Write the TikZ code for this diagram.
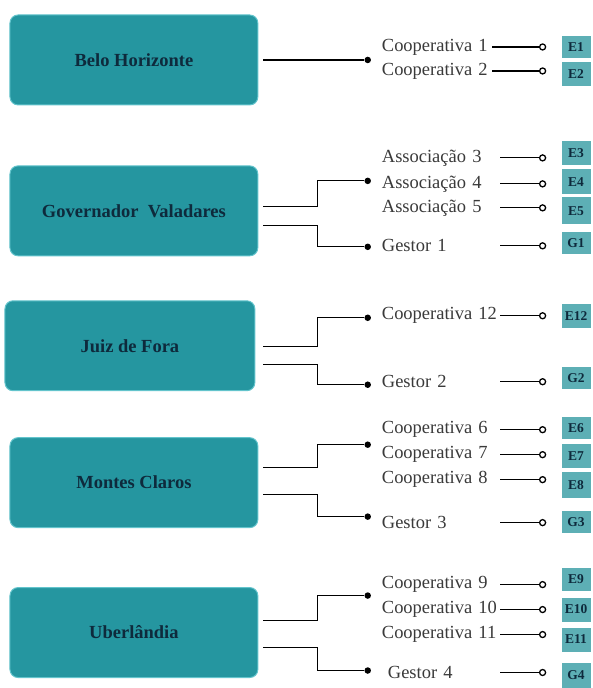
\documentclass[tikz,border=0pt]{standalone}
\usepackage{fontspec}
\setmainfont{Liberation Serif}
\definecolor{tealcid}{HTML}{2596A0}
\definecolor{bordacid}{HTML}{63C4CC}
\definecolor{textocid}{HTML}{0E2A3C}
\definecolor{tealcx}{HTML}{5DAFB5}
\definecolor{cinzarot}{HTML}{3A3A3A}
\begin{document}
\begin{tikzpicture}[x=1pt,y=1pt]

      \tikzset{cidade/.style={draw=bordacid, line width=1pt, fill=tealcid, rounded corners=8pt, minimum width=248pt, minimum height=90pt, inner sep=0pt, font=\fontsize{18.5}{20}\selectfont\bfseries, text=textocid},
               ponto/.style={circle, fill=black, inner sep=0pt, minimum size=6.5pt},
               anel/.style={circle, draw, line width=1.3pt, fill=white, inner sep=0pt, minimum size=6pt},
               rot/.style={anchor=west, inner sep=0pt, text width=118pt, align=left, font=\fontsize{18.5}{20}\selectfont, text=cinzarot},
               caixa/.style={fill=tealcx, minimum width=29pt, inner sep=0pt, font=\fontsize{13.5}{14}\selectfont\bfseries, text=textocid},
               fio/.style={line width=1.1pt, black}}
      \fill[white] (0,0) rectangle (593,-688);
%% Cidades
      	\node[cidade] (bh) at (134,-60) {Belo Horizonte};
      	\node[cidade] (gv) at (134,-211) {Governador~~Valadares};
      	\node[cidade, minimum width=250pt] (jf) at (130,-346) {Juiz de Fora};
      	\node[cidade] (mc) at (134,-483) {Montes Claros};
      	\node[cidade] (ub) at (134,-633) {Uberlândia};
%% Pontos
      	\node[ponto] (bhA) at (368,-60) {};
      	\node[ponto] (gvA) at (368,-181) {};
      	\node[ponto] (gvB) at (368,-247) {};
      	\node[ponto] (jfA) at (368,-318) {};
      	\node[ponto] (jfB) at (368,-385) {};
      	\node[ponto] (mcA) at (368,-445) {};
      	\node[ponto] (mcB) at (368,-517) {};
      	\node[ponto] (ubA) at (368,-596) {};
      	\node[ponto] (ubB) at (368,-671) {};
%% Rotulos
      	\node[rot, text width=110pt] (r1) at (382,-47) {Cooperativa 1};
      	\node[rot, text width=110pt] (r2) at (382,-71) {Cooperativa 2};
      	\node[rot] (r3) at (382,-158) {Associação 3};
      	\node[rot] (r4) at (382,-184) {Associação 4};
      	\node[rot] (r5) at (382,-208) {Associação 5};
      	\node[rot] (g1) at (382,-246) {Gestor 1};
      	\node[rot] (r12) at (382,-316) {Cooperativa 12};
      	\node[rot] (g2) at (382,-382) {Gestor 2};
      	\node[rot] (r6) at (382,-430) {Cooperativa 6};
      	\node[rot] (r7) at (382,-455) {Cooperativa 7};
      	\node[rot] (r8) at (382,-480) {Cooperativa 8};
      	\node[rot] (g3) at (382,-523) {Gestor 3};
      	\node[rot] (r9) at (382,-585) {Cooperativa 9};
      	\node[rot] (r10) at (382,-610) {Cooperativa 10};
      	\node[rot] (r11) at (382,-635) {Cooperativa 11};
      	\node[rot, text width=112pt] (g4) at (388,-673) {Gestor 4};
%% Aneis
      	\node[anel] (o1) at (r1.east -| 543,0) {};
      	\node[anel] (o2) at (r2.east -| 543,0) {};
      	\node[anel] (o3) at (r3.east -| 543,0) {};
      	\node[anel] (o4) at (r4.east -| 543,0) {};
      	\node[anel] (o5) at (r5.east -| 543,0) {};
      	\node[anel] (og1) at (g1.east -| 543,0) {};
      	\node[anel] (o12) at (r12.east -| 543,0) {};
      	\node[anel] (og2) at (g2.east -| 543,0) {};
      	\node[anel] (o6) at (r6.east -| 543,0) {};
      	\node[anel] (o7) at (r7.east -| 543,0) {};
      	\node[anel] (o8) at (r8.east -| 543,0) {};
      	\node[anel] (og3) at (g3.east -| 543,0) {};
      	\node[anel] (o9) at (r9.east -| 543,0) {};
      	\node[anel] (o10) at (r10.east -| 543,0) {};
      	\node[anel] (o11) at (r11.east -| 543,0) {};
      	\node[anel] (og4) at (g4.east -| 543,0) {};
%% Caixas
      	\node[caixa, minimum height=22pt] (e1) at (576.5,-47) {E1};
      	\node[caixa, minimum height=24pt] (e2) at (576.5,-74) {E2};
      	\node[caixa, minimum height=24pt] (e3) at (576.5,-153) {E3};
      	\node[caixa, minimum height=25pt] (e4) at (576.5,-182) {E4};
      	\node[caixa, minimum height=27pt] (e5) at (576.5,-211) {E5};
      	\node[caixa, minimum height=22pt] (eg1) at (576.5,-243) {G1};
      	\node[caixa, minimum height=24pt] (e12) at (576.5,-316) {E12};
      	\node[caixa, minimum height=22pt] (eg2) at (576.5,-378) {G2};
      	\node[caixa, minimum height=22pt] (e6) at (576.5,-428) {E6};
      	\node[caixa, minimum height=24pt] (e7) at (576.5,-456) {E7};
      	\node[caixa, minimum height=26pt] (e8) at (576.5,-485) {E8};
      	\node[caixa, minimum height=22pt] (eg3) at (576.5,-522) {G3};
      	\node[caixa, minimum height=23pt] (e9) at (576.5,-580) {E9};
      	\node[caixa, minimum height=24pt] (e10) at (576.5,-610) {E10};
      	\node[caixa, minimum height=24pt] (e11) at (576.5,-640) {E11};
      	\node[caixa, minimum height=25pt] (eg4) at (576.5,-676) {G4};
%Ligacoes
		\draw[fio] ([xshift=5pt]bh.east) -- (bhA);
		\draw[fio] ([xshift=5pt,yshift=4pt]gv.east) -- ++(54,0) |- (gvA);
		\draw[fio] ([xshift=5pt,yshift=-15pt]gv.east) -- ++(54,0) |- (gvB);
		\draw[fio] ([xshift=8pt,yshift=-1pt]jf.east) -- ++(54,0) |- (jfA);
		\draw[fio] ([xshift=8pt,yshift=-19pt]jf.east) -- ++(54,0) |- (jfB);
		\draw[fio] ([xshift=5pt,yshift=15pt]mc.east) -- ++(54,0) |- (mcA);
		\draw[fio] ([xshift=5pt,yshift=-12pt]mc.east) -- ++(54,0) |- (mcB);
		\draw[fio] ([xshift=5pt,yshift=12pt]ub.east) -- ++(54,0) |- (ubA);
		\draw[fio] ([xshift=5pt,yshift=-15pt]ub.east) -- ++(54,0) |- (ubB);
%Tracos curtos
		\draw[fio] (r1.east) -- (o1);
		\draw[fio] (r2.east) -- (o2);
		\draw[fio] (r3.east) -- (o3);
		\draw[fio] (r4.east) -- (o4);
		\draw[fio] (r5.east) -- (o5);
		\draw[fio] (g1.east) -- (og1);
		\draw[fio] (r12.east) -- (o12);
		\draw[fio] (g2.east) -- (og2);
		\draw[fio] (r6.east) -- (o6);
		\draw[fio] (r7.east) -- (o7);
		\draw[fio] (r8.east) -- (o8);
		\draw[fio] (g3.east) -- (og3);
		\draw[fio] (r9.east) -- (o9);
		\draw[fio] (r10.east) -- (o10);
		\draw[fio] (r11.east) -- (o11);
		\draw[fio] (g4.east) -- (og4);

	\end{tikzpicture}
\end{document}
